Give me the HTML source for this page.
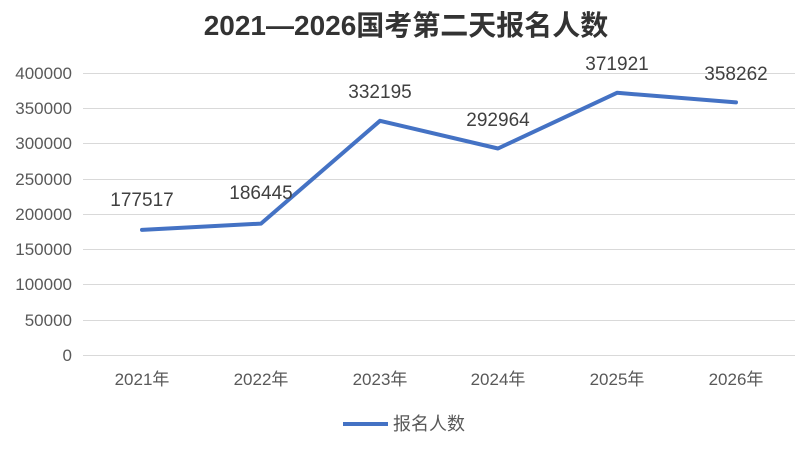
<!DOCTYPE html>
<html><head><meta charset="utf-8"><style>
html,body{margin:0;padding:0;background:#fff;}
svg{display:block;font-family:"Liberation Sans","Noto Sans CJK SC",sans-serif;}
</style></head><body>
<svg width="811" height="449" viewBox="0 0 811 449">
<rect width="811" height="449" fill="#fff"/>
<text x="406" y="35" text-anchor="middle" font-size="28" font-weight="bold" fill="#333">2021—2026国考第二天报名人数</text>
<g stroke="#d9d9d9" stroke-width="1">
<line x1="83" x2="795" y1="73.5" y2="73.5"/>
<line x1="83" x2="795" y1="108.5" y2="108.5"/>
<line x1="83" x2="795" y1="143.5" y2="143.5"/>
<line x1="83" x2="795" y1="179.5" y2="179.5"/>
<line x1="83" x2="795" y1="214.5" y2="214.5"/>
<line x1="83" x2="795" y1="249.5" y2="249.5"/>
<line x1="83" x2="795" y1="284.5" y2="284.5"/>
<line x1="83" x2="795" y1="320.5" y2="320.5"/>
<line x1="83" x2="795" y1="355.5" y2="355.5"/>
</g>
<g font-size="17" fill="#595959" text-anchor="end">
<text x="72" y="79">400000</text>
<text x="72" y="114">350000</text>
<text x="72" y="149">300000</text>
<text x="72" y="185">250000</text>
<text x="72" y="220">200000</text>
<text x="72" y="255">150000</text>
<text x="72" y="290">100000</text>
<text x="72" y="326">50000</text>
<text x="72" y="361">0</text>
</g>
<g font-size="17" fill="#595959" text-anchor="middle">
<text x="142" y="385">2021年</text>
<text x="261" y="385">2022年</text>
<text x="380" y="385">2023年</text>
<text x="498" y="385">2024年</text>
<text x="617" y="385">2025年</text>
<text x="736" y="385">2026年</text>
</g>
<polyline fill="none" stroke="#4472c4" stroke-width="4" stroke-linejoin="round" stroke-linecap="round"
points="142,229.9 261,223.6 380,120.8 498,148.5 617,92.8 736,102.4"/>
<g font-size="19" fill="#404040" text-anchor="middle">
<text x="142" y="206">177517</text>
<text x="261" y="199">186445</text>
<text x="380" y="98">332195</text>
<text x="498" y="126">292964</text>
<text x="617" y="70">371921</text>
<text x="736" y="80">358262</text>
</g>
<line x1="343" x2="388" y1="424" y2="424" stroke="#4472c4" stroke-width="4"/>
<text x="393" y="430" font-size="18" fill="#595959">报名人数</text>
</svg>
</body></html>
